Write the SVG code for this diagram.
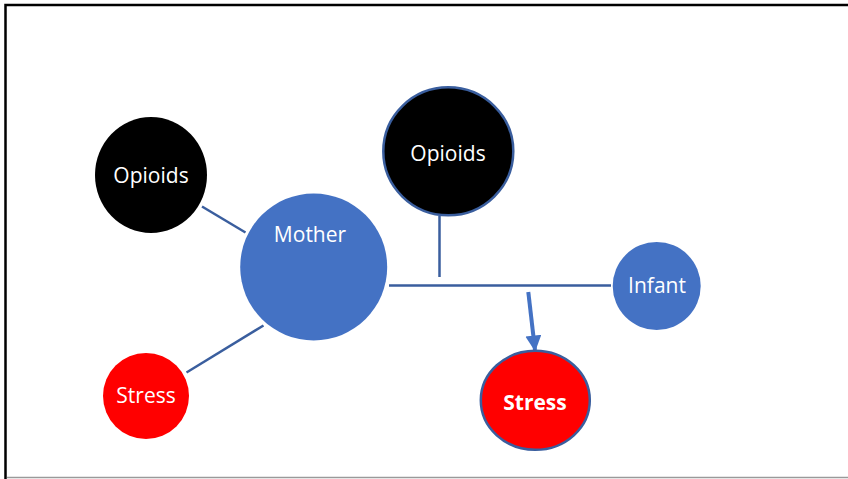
<svg xmlns="http://www.w3.org/2000/svg" width="848" height="479" viewBox="0 0 848 479">
  <style>
    .lbl { font-family: "Open Sans", "Noto Sans", "DejaVu Sans", sans-serif; font-size: 21px; fill: #ffffff; text-anchor: middle; }
    .bold { font-weight: bold; }
    .link { stroke: #3A5E9E; stroke-width: 2.5; fill: none; }
    .blue { fill: #4472C4; }
    .ring { stroke: #3A5E9E; stroke-width: 2.5; }
  </style>
  <defs>
    <marker id="head" markerWidth="4" markerHeight="4" refX="3.6" refY="2" orient="auto" markerUnits="strokeWidth">
      <path d="M0,0 L4,2 L0,4 Z" fill="#4472C4"/>
    </marker>
  </defs>

  <rect width="848" height="479" fill="#ffffff"/>
  <!-- frame -->
  <path d="M5.5,479 V5 H848" fill="none" stroke="#000000" stroke-width="2.5"/>
  <line x1="7" y1="477.5" x2="848" y2="477.5" stroke="#9a9a9a" stroke-width="1.5"/>

  <g id="connectors">
    <line class="link" x1="202" y1="206.5" x2="245.5" y2="232.5"/>
    <line class="link" x1="263.5" y1="325.5" x2="186.5" y2="372.5"/>
    <line class="link" x1="389" y1="285.5" x2="611" y2="285.5"/>
    <line class="link" x1="439.5" y1="216" x2="439.5" y2="277"/>
    <line x1="528.3" y1="292" x2="535" y2="350" stroke="#4472C4" stroke-width="4" marker-end="url(#head)"/>
  </g>

  <g id="opioids-left">
    <ellipse cx="151" cy="175" rx="56" ry="58" fill="#000000"/>
    <text class="lbl" x="151" y="183">Opioids</text>
  </g>

  <g id="mother">
    <circle class="blue" cx="313.7" cy="267" r="73.5"/>
    <text class="lbl" x="310" y="242">Mother</text>
  </g>

  <g id="opioids-top">
    <ellipse class="ring" cx="448.3" cy="151.3" rx="65" ry="64" fill="#000000"/>
    <text class="lbl" x="448" y="161">Opioids</text>
  </g>

  <g id="infant">
    <circle class="blue" cx="656.7" cy="286" r="44"/>
    <text class="lbl" x="657" y="293">Infant</text>
  </g>

  <g id="stress-left">
    <circle cx="146" cy="396" r="43" fill="#FF0000"/>
    <text class="lbl" x="146" y="403">Stress</text>
  </g>

  <g id="stress-bottom">
    <ellipse class="ring" cx="535.3" cy="400.3" rx="54.5" ry="49.5" fill="#FF0000"/>
    <text class="lbl bold" x="535" y="410">Stress</text>
  </g>
</svg>
